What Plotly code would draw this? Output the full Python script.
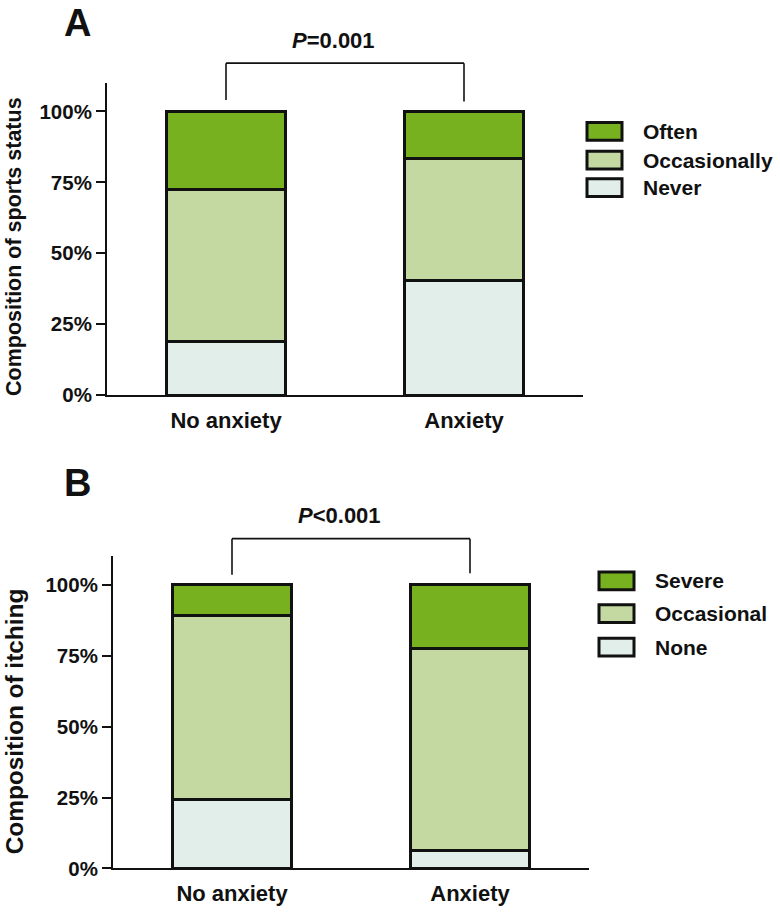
import plotly.graph_objects as go

# ---------------- data ----------------
groups = ["No anxiety", "Anxiety"]

sports_levels = ["Never", "Occasionally", "Often"]
sports_never = [19.0, 40.3]
sports_occasionally = [53.6, 43.1]
sports_often = [27.4, 16.6]

itch_levels = ["None", "Occasional", "Severe"]
itch_none = [24.4, 6.4]
itch_occasional = [64.6, 71.0]
itch_severe = [11.0, 22.6]

y_ticks = [0, 25, 50, 75, 100]
y_tick_labels = ["0%", "25%", "50%", "75%", "100%"]
p_texts = ["<b><i>P</i>=0.001</b>", "<b><i>P</i>&lt;0.001</b>"]
panel_letters = ["A", "B"]
y_titles = ["Composition of sports status", "Composition of itching"]

colors = ["#E2EEE9", "#C4D8A2", "#78B120"]  # bottom -> top
FONT = "Liberation Sans, Arial, sans-serif"
INK = "#111111"

W, H = 780, 918
YMAX = 110
XR = [-0.5, 1.5]

fig = go.Figure()

panels = [
    dict(xa="x", ya="y", series=[sports_never, sports_occasionally, sports_often],
         names=sports_levels, legend_px=(587, [133, 162, 190])),
    dict(xa="x2", ya="y2", series=[itch_none, itch_occasional, itch_severe],
         names=itch_levels, legend_px=(599, [588, 621, 655])),
]

for p in panels:
    for vals, name, col in zip(p["series"], p["names"], colors):
        fig.add_trace(go.Bar(
            x=groups, y=vals, name=name, xaxis=p["xa"], yaxis=p["ya"],
            width=0.5, marker=dict(color=col, line=dict(color=INK, width=3)),
            showlegend=False, hoverinfo="name+y",
        ))

axis_common_y = dict(range=[0, YMAX], tickmode="array", tickvals=y_ticks, ticktext=y_tick_labels,
                     showline=True, linewidth=2, linecolor=INK, ticks="outside",
                     ticklen=9, tickwidth=2, tickcolor=INK, showgrid=False,
                     zeroline=False, tickfont=dict(family=FONT, size=20.5, color=INK, weight="bold"))
axis_common_x = dict(range=XR, showline=True, linewidth=2, linecolor=INK, ticks="",
                     showgrid=False, zeroline=False, type="category", ticklabelstandoff=4,
                     tickfont=dict(family=FONT, size=22, color=INK, weight="bold"))

# panel A plot area: x 107..583, y 84..400 ; panel B: x 113..589, y 563..879
fig.update_layout(
    xaxis=dict(domain=[107 / W, 583 / W], anchor="y", **axis_common_x),
    yaxis=dict(domain=[1 - 400 / H, 1 - 84 / H], anchor="x", **axis_common_y),
    xaxis2=dict(domain=[113 / W, 589 / W], anchor="y2", **axis_common_x),
    yaxis2=dict(domain=[1 - 879 / H, 1 - 563 / H], anchor="x2", **axis_common_y),
)

def xd(i):
    return (i - XR[0]) / (XR[1] - XR[0])

def yd(v):
    return v / YMAX

shapes = []
annotations = []
bracket = [(104.0, 117.0, 103.5), (103.5, 116.2, 104.0)]
title_y = [250, 730]
title_size = [21.5, 24.4]
letter_pos = [(77, 23), (77, 489)]
for k, p in enumerate(panels):
    xa, ya = p["xa"], p["ya"]
    lo_l, top, lo_r = bracket[k]
    ref = dict(xref=f"{xa} domain", yref=f"{ya} domain")
    line = dict(color=INK, width=1.6)
    shapes.append(dict(type="line", x0=xd(0), x1=xd(0), y0=yd(lo_l), y1=yd(top), line=line, **ref))
    shapes.append(dict(type="line", x0=xd(0), x1=xd(1), y0=yd(top), y1=yd(top), line=line, **ref))
    shapes.append(dict(type="line", x0=xd(1), x1=xd(1), y0=yd(lo_r), y1=yd(top), line=line, **ref))
    annotations.append(dict(text=p_texts[k], x=xd(0.45), y=yd(top + 8), showarrow=False,
                            xanchor="center", yanchor="middle",
                            font=dict(family=FONT, size=22, color=INK), **ref))
    # y-axis title
    annotations.append(dict(text=f"<b>{y_titles[k]}</b>", textangle=-90, xref="paper", yref="paper",
                            x=14 / W, y=1 - title_y[k] / H, showarrow=False,
                            xanchor="center", yanchor="middle",
                            font=dict(family=FONT, size=title_size[k], color=INK)))
    # panel letter
    lx, ly = letter_pos[k]
    annotations.append(dict(text=f"<b>{panel_letters[k]}</b>", xref="paper", yref="paper",
                            x=lx / W, y=1 - ly / H, showarrow=False,
                            xanchor="center", yanchor="middle",
                            font=dict(family=FONT, size=38, color=INK)))
    # legend (top item first)
    bx, rows = p["legend_px"]
    for j, (name, col) in enumerate(zip(p["names"][::-1], colors[::-1])):
        cy = rows[j]
        shapes.append(dict(type="rect", xref="paper", yref="paper",
                           x0=bx / W, x1=(bx + 35) / W, y0=1 - (cy + 9) / H, y1=1 - (cy - 9) / H,
                           fillcolor=col, line=dict(color=INK, width=3)))
        annotations.append(dict(text=f"<b>{name}</b>", xref="paper", yref="paper",
                                x=(bx + 54) / W, y=1 - cy / H, xanchor="left", yanchor="middle",
                                showarrow=False, font=dict(family=FONT, size=21, color=INK)))

fig.update_layout(
    width=W, height=H, autosize=False,
    margin=dict(l=0, r=0, t=0, b=0),
    paper_bgcolor="white", plot_bgcolor="white",
    shapes=shapes, annotations=annotations,
    bargap=0.5, barmode="stack", showlegend=False,
)

fig.write_html(
    "out.html",
    config={"displayModeBar": False},
    post_script=(
        "document.documentElement.style.margin='0';"
        "document.documentElement.style.overflow='hidden';"
        "document.body.style.margin='0';"
        "document.body.style.overflow='hidden';"
        "document.body.style.height='918px';"
    ),
)
